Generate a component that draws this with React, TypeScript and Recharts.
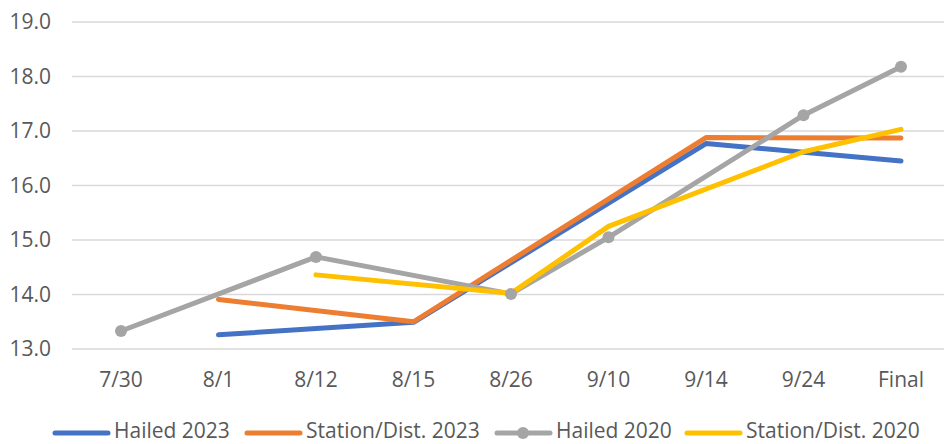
import React from 'react';
import { LineChart, Line, XAxis, YAxis, CartesianGrid, Legend } from 'recharts';

const categories = ['7/30', '8/1', '8/12', '8/15', '8/26', '9/10', '9/14', '9/24', 'Final'];
const hailed2023 = [null, 13.26, null, 13.49, null, null, 16.77, null, 16.45];
const station2023 = [null, 13.91, null, 13.5, null, null, 16.88, null, 16.87];
const hailed2020 = [13.33, null, 14.69, null, 14.01, 15.05, null, 17.29, 18.18];
const station2020 = [null, null, 14.36, null, 14.02, 15.25, null, 16.62, 17.03];
const yTicks = [13, 14, 15, 16, 17, 18, 19];

const SERIES = [
  { key: 'h23', name: 'Hailed 2023', color: '#4472C4', dot: false },
  { key: 's23', name: 'Station/Dist. 2023', color: '#ED7D31', dot: false },
  { key: 'h20', name: 'Hailed 2020', color: '#A5A5A5', dot: true },
  { key: 's20', name: 'Station/Dist. 2020', color: '#FFC000', dot: false },
];

const data = categories.map((c, i) => ({
  cat: c, h23: hailed2023[i], s23: station2023[i], h20: hailed2020[i], s20: station2020[i],
}));

// swatch start x for each legend entry, text follows the swatch
const LEGEND_X = [53, 245, 495, 685];

const LegendBox = () => (
  <svg width={944} height={25} style={{ display: 'block', overflow: 'visible' }}>
    {SERIES.map((s, i) => {
      const x = LEGEND_X[i];
      return (
        <g key={s.key}>
          <line x1={x + 2} x2={x + 55} y1={15} y2={15} stroke={s.color} strokeWidth={5} strokeLinecap="round" />
          {s.dot && <circle cx={x + 28} cy={15} r={6} fill={s.color} />}
          <text x={x + 61} y={20} fontSize={21} fill="#595959">{s.name}</text>
        </g>
      );
    })}
  </svg>
);

export default function App() {
  return (
    <div style={{ position: 'absolute', left: 0, top: 0, width: 944, height: 444, overflow: 'hidden', background: '#fff', fontFamily: '"Open Sans", sans-serif' }}>
      <LineChart width={952} height={444} data={data} margin={{ top: 22, right: 2, bottom: 20, left: 0 }}>
        <CartesianGrid vertical={false} stroke="#d9d9d9" strokeWidth={1.5} />
        <XAxis dataKey="cat" axisLine={false} tickLine={false} tickSize={0} tickMargin={23} height={50}
          padding={{ left: 49, right: 49 }} interval={0} tick={{ fontSize: 21, fill: '#595959' }} />
        <YAxis domain={[13, 19]} ticks={yTicks} axisLine={false} tickLine={false} tickSize={0} tickMargin={21}
          width={72} tickFormatter={(v: number) => v.toFixed(1)} tick={{ fontSize: 21, fill: '#595959' }} />
        <Legend verticalAlign="bottom" content={() => <LegendBox />} wrapperStyle={{ left: 0, top: 418, bottom: 'auto', width: 944 }} />
        {SERIES.map(s => (
          <Line key={s.key} dataKey={s.key} name={s.name} stroke={s.color} strokeWidth={5} connectNulls
            strokeLinecap="round" strokeLinejoin="round" isAnimationActive={false}
            dot={s.dot ? { r: 6, fill: s.color, stroke: 'none' } : false} activeDot={false} />
        ))}
      </LineChart>
    </div>
  );
}
